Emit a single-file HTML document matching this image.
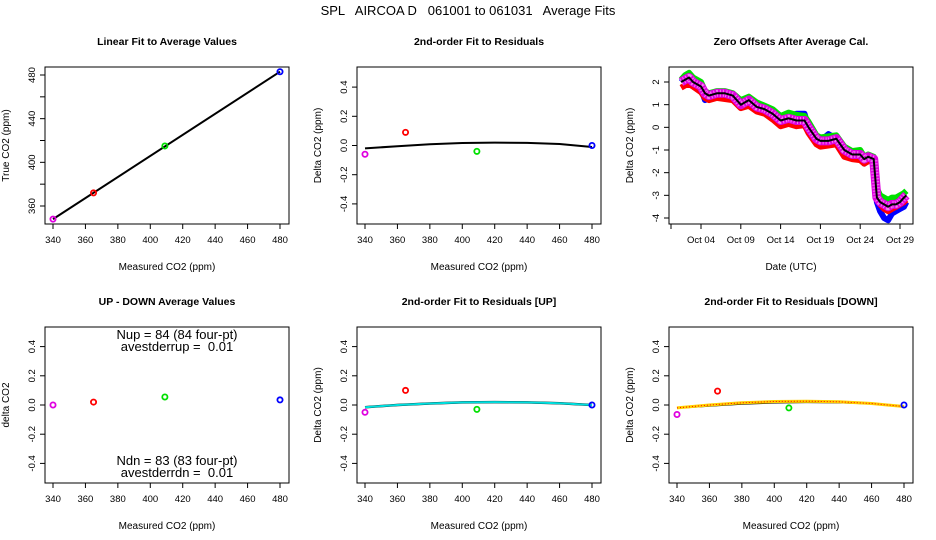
<!DOCTYPE html>
<html><head><meta charset="utf-8"><style>
body{margin:0;background:#fff;}
svg{display:block;font-family:"Liberation Sans",sans-serif;}
</style></head><body>
<svg id="c" width="936" height="540" viewBox="0 0 936 540"></svg>
<script>
const meas = [340, 365, 409, 480];
const trueVals = [348, 372, 415, 483];
const ptColors = ['#e000e0', 'red', '#00e000', 'blue'];
const resid = [-0.06, 0.09, -0.04, 0.0];
const fitX = [340, 360, 380, 400, 420, 440, 460, 480];
const fitAll = [-0.02, -0.005, 0.008, 0.017, 0.02, 0.018, 0.01, -0.01];
const updown = [0.0, 0.02, 0.055, 0.035];
const residUp = [-0.05, 0.1, -0.03, 0.0];
const fitUp = [-0.015, 0.0, 0.01, 0.018, 0.02, 0.018, 0.012, 0.0];
const residDn = [-0.065, 0.095, -0.02, 0.0];
const fitDn = [-0.02, 0.0, 0.015, 0.024, 0.026, 0.022, 0.01, -0.01];
const xTicks = [340, 360, 380, 400, 420, 440, 460, 480];
const resTicks = [-0.4, -0.2, 0.0, 0.2, 0.4];
const tDays = [1.5, 2.0, 2.5, 3.0, 4.0, 4.5, 5.0, 6.0, 7.0, 8.0, 9.0, 10.0, 11.0, 12.0, 13.0, 14.0, 15.0, 16.0, 17.0, 17.5, 18.5, 19.0, 20.0, 21.0, 22.0, 23.0, 24.0, 24.5, 25.0, 25.7, 26.1, 26.5, 27.0, 27.5, 28.0, 28.5, 29.0, 29.5, 29.8];
const offMean = [2.0, 2.1, 2.2, 2.0, 1.8, 1.5, 1.4, 1.5, 1.5, 1.4, 1.0, 1.2, 0.9, 0.8, 0.6, 0.3, 0.4, 0.3, 0.3, 0.0, -0.5, -0.6, -0.6, -0.5, -1.0, -1.2, -1.2, -1.4, -1.3, -1.4, -3.1, -3.3, -3.4, -3.5, -3.4, -3.4, -3.3, -3.1, -3.0];
const offRed = [1.75, 1.85, 1.9, 1.8, 1.55, 1.3, 1.2, 1.3, 1.25, 1.2, 0.85, 0.95, 0.7, 0.6, 0.35, 0.05, 0.15, 0.05, 0.1, -0.25, -0.75, -0.85, -0.8, -0.75, -1.3, -1.4, -1.45, -1.6, -1.5, -1.5, -3.2, -3.4, -3.6, -3.7, -3.6, -3.5, -3.4, -3.3, -3.2];
const offGreen = [2.1, 2.3, 2.4, 2.2, 2.0, 1.6, 1.5, 1.6, 1.6, 1.5, 1.2, 1.35, 1.1, 0.95, 0.8, 0.5, 0.65, 0.55, 0.5, 0.25, -0.35, -0.45, -0.4, -0.35, -0.85, -1.05, -1.0, -1.3, -1.2, -1.3, -2.7, -3.0, -3.1, -3.2, -3.1, -3.1, -3.0, -2.9, -2.8];
const offBlue = [2.0, 2.2, 2.2, 2.0, 1.7, 1.2, 1.3, 1.5, 1.4, 1.4, 1.0, 1.2, 0.9, 0.8, 0.6, 0.2, 0.5, 0.6, 0.6, 0.0, -0.5, -0.6, -0.3, -0.5, -1.0, -1.2, -1.2, -1.6, -1.3, -1.4, -3.3, -3.7, -4.0, -4.1, -3.8, -3.7, -3.6, -3.5, -3.3];
const dateTicks = [4, 9, 14, 19, 24, 29];
const dateLabels = ['Oct 04', 'Oct 09', 'Oct 14', 'Oct 19', 'Oct 24', 'Oct 29'];
const p3Ticks = [-4, -3, -2, -1, 0, 1, 2];
const p1YTicks = [360, 400, 440, 480];
const p1YMinor = [380, 420, 460];

const svg = document.getElementById('c');
const NS = 'http://www.w3.org/2000/svg';
function mk(tag, attrs, parent, txt) {
  const e = document.createElementNS(NS, tag);
  for (const k in attrs) e.setAttribute(k, attrs[k]);
  if (txt !== undefined) e.textContent = txt;
  (parent || svg).appendChild(e);
  return e;
}
function lin(d0, d1, r0, r1) { return v => r0 + (v - d0) / (d1 - d0) * (r1 - r0); }

const t = mk('text', {x: 468, y: 15, 'text-anchor': 'middle', 'font-size': 13}, svg, 'SPL   AIRCOA D   061001 to 061031   Average Fits');


t.style.whiteSpace = 'pre';

function panel(col, row, name, title, xlab, ylab) {
  const L = 45 + col * 312, R = L + 244;
  const T = row ? 327 : 67, B = row ? 483 : 224;
  const g = mk('g', {});
  
  
  mk('rect', {x: L, y: T, width: R - L, height: B - T, fill: 'none', stroke: '#000', 'stroke-width': 1}, g);
  const tt = mk('text', {x: (L + R) / 2, y: T - 22, 'text-anchor': 'middle', 'font-size': 10.5, 'font-weight': 'bold'}, g, title);
  
  
  const xl = mk('text', {x: (L + R) / 2, y: B + 46, 'text-anchor': 'middle', 'font-size': 10}, g, xlab);
  
  
  const cy = (T + B) / 2;
  const yl = mk('text', {x: L - 36, y: cy, 'text-anchor': 'middle', 'font-size': 10, transform: `rotate(-90 ${L - 36} ${cy})`}, g, ylab);
  
  
  return {g, L, R, T, B};
}
function xAxis(p, sx, ticks, labels) {
  ticks.forEach((v, i) => {
    const x = sx(v);
    mk('line', {x1: x, x2: x, y1: p.B, y2: p.B + 5, stroke: '#000'}, p.g);
    mk('text', {x: x, y: p.B + 19, 'text-anchor': 'middle', 'font-size': 9.5}, p.g, labels ? labels[i] : v);
  });
  mk('line', {x1: sx(ticks[0]), x2: sx(ticks[ticks.length - 1]), y1: p.B, y2: p.B, stroke: '#000'}, p.g);
}
function yAxis(p, sy, ticks, fmt, minor) {
  ticks.forEach(v => {
    const y = sy(v);
    mk('line', {x1: p.L - 5, x2: p.L, y1: y, y2: y, stroke: '#000'}, p.g);
    mk('text', {x: p.L - 10, y: y, 'text-anchor': 'middle', 'font-size': 9.5, transform: `rotate(-90 ${p.L - 10} ${y})`}, p.g, fmt ? fmt(v) : v);
  });
  (minor || []).forEach(v => {
    const y = sy(v);
    mk('line', {x1: p.L - 5, x2: p.L, y1: y, y2: y, stroke: '#000'}, p.g);
  });
}
function pts(p, sx, sy, xs, ys, nm) {
  xs.forEach((v, i) => {
    const c = mk('circle', {cx: sx(v), cy: sy(ys[i]), r: 2.6, fill: 'none', stroke: ptColors[i], 'stroke-width': 1.8}, p.g);
    
    
  });
}
function poly(p, xs, ys, sx, sy, attrs, nm) {
  const d = xs.map((v, i) => sx(v).toFixed(1) + ',' + sy(ys[i]).toFixed(1)).join(' ');
  const a = Object.assign({points: d, fill: 'none'}, attrs);
  const e = mk('polyline', a, p.g);
  
  
  return e;
}
const fmt1 = v => v.toFixed(1);
function sxFor(p) { return lin(340, 480, p.L + 8, p.R - 9); }

{
  const p = panel(0, 0, 'linear-fit-panel', 'Linear Fit to Average Values', 'Measured CO2 (ppm)', 'True CO2 (ppm)');
  const sx = sxFor(p), sy = lin(360, 480, 206, 75);
  xAxis(p, sx, xTicks); yAxis(p, sy, p1YTicks, null, p1YMinor);
  poly(p, [meas[0], meas[3]], [trueVals[0], trueVals[3]], sx, sy, {stroke: '#000', 'stroke-width': 2}, 'linear-fit-line');
  pts(p, sx, sy, meas, trueVals, 'linear');
}
function resPanel(col, row, name, title, ylab, res, fits, fitStyles) {
  const p = panel(col, row, name, title, 'Measured CO2 (ppm)', ylab);
  const sx = sxFor(p);
  const zero = (p.T + p.B) / 2;
  const sy = v => zero - v * 146;
  xAxis(p, sx, xTicks); yAxis(p, sy, resTicks, fmt1);
  fits.forEach((f, i) => poly(p, fitX, f, sx, sy, fitStyles[i], name + '-fit-' + i));
  if (res) pts(p, sx, sy, meas, res, name);
  return {p, sx, sy};
}
resPanel(1, 0, 'residual-fit-panel', '2nd-order Fit to Residuals', 'Delta CO2 (ppm)', resid, [fitAll], [{stroke: '#000', 'stroke-width': 2}]);
{
  const r = resPanel(0, 1, 'up-down-panel', 'UP - DOWN Average Values', 'delta CO2', updown, [], []);
  const cx = (r.p.L + r.p.R) / 2 + 10;
  [['Nup = 84 (84 four-pt)', 339], ['avestderrup =  0.01', 351], ['Ndn = 83 (83 four-pt)', 465], ['avestderrdn =  0.01', 477]].forEach((s, i) => {
    const e = mk('text', {x: cx, y: s[1], 'text-anchor': 'middle', 'font-size': 13}, r.p.g, s[0]);
    e.style.whiteSpace = 'pre';
    
    
  });
}
resPanel(1, 1, 'residual-up-panel', '2nd-order Fit to Residuals [UP]', 'Delta CO2 (ppm)', residUp, [fitUp, fitUp], [{stroke: '#000', 'stroke-width': 2.5}, {stroke: '#00e0e0', 'stroke-width': 2}]);
resPanel(2, 1, 'residual-down-panel', '2nd-order Fit to Residuals [DOWN]', 'Delta CO2 (ppm)', residDn, [fitAll, fitDn, fitDn], [{stroke: '#000', 'stroke-width': 2}, {stroke: '#ffd000', 'stroke-width': 3}, {stroke: 'red', 'stroke-width': 1, 'stroke-dasharray': '1 2'}]);

{
  const p = panel(2, 0, 'zero-offsets-panel', 'Zero Offsets After Average Cal.', 'Date (UTC)', 'Delta CO2 (ppm)');
  const sx = lin(4, 29, 701, 900), sy = lin(2, -4, 82, 218);
  xAxis(p, sx, dateTicks, dateLabels);
  mk('line', {x1: p.L, x2: sx(4), y1: p.B, y2: p.B, stroke: '#000'}, p.g);
  mk('line', {x1: p.L + 2, x2: p.L + 2, y1: p.B, y2: p.B + 5, stroke: '#000'}, p.g);
  yAxis(p, sy, p3Ticks);
  poly(p, tDays, offBlue, sx, sy, {stroke: 'blue', 'stroke-width': 6, 'stroke-linejoin': 'round'}, 'offset-blue');
  poly(p, tDays, offGreen, sx, sy, {stroke: '#00e000', 'stroke-width': 6, 'stroke-linejoin': 'round'}, 'offset-green');
  poly(p, tDays, offRed, sx, sy, {stroke: 'red', 'stroke-width': 6, 'stroke-linejoin': 'round'}, 'offset-red');
  poly(p, tDays, offMean, sx, sy, {stroke: '#e000e0', 'stroke-width': 9, 'stroke-linejoin': 'round'}, 'offset-magenta');
  poly(p, tDays, offMean, sx, sy, {stroke: '#fff', 'stroke-width': 7, 'stroke-dasharray': '1 2', 'stroke-linejoin': 'round', opacity: 0.5}, 'offset-magenta-texture');
  poly(p, tDays, offMean, sx, sy, {stroke: '#000', 'stroke-width': 2, 'stroke-linejoin': 'round'}, 'offset-mean-line');
}
</script>
</body></html>
